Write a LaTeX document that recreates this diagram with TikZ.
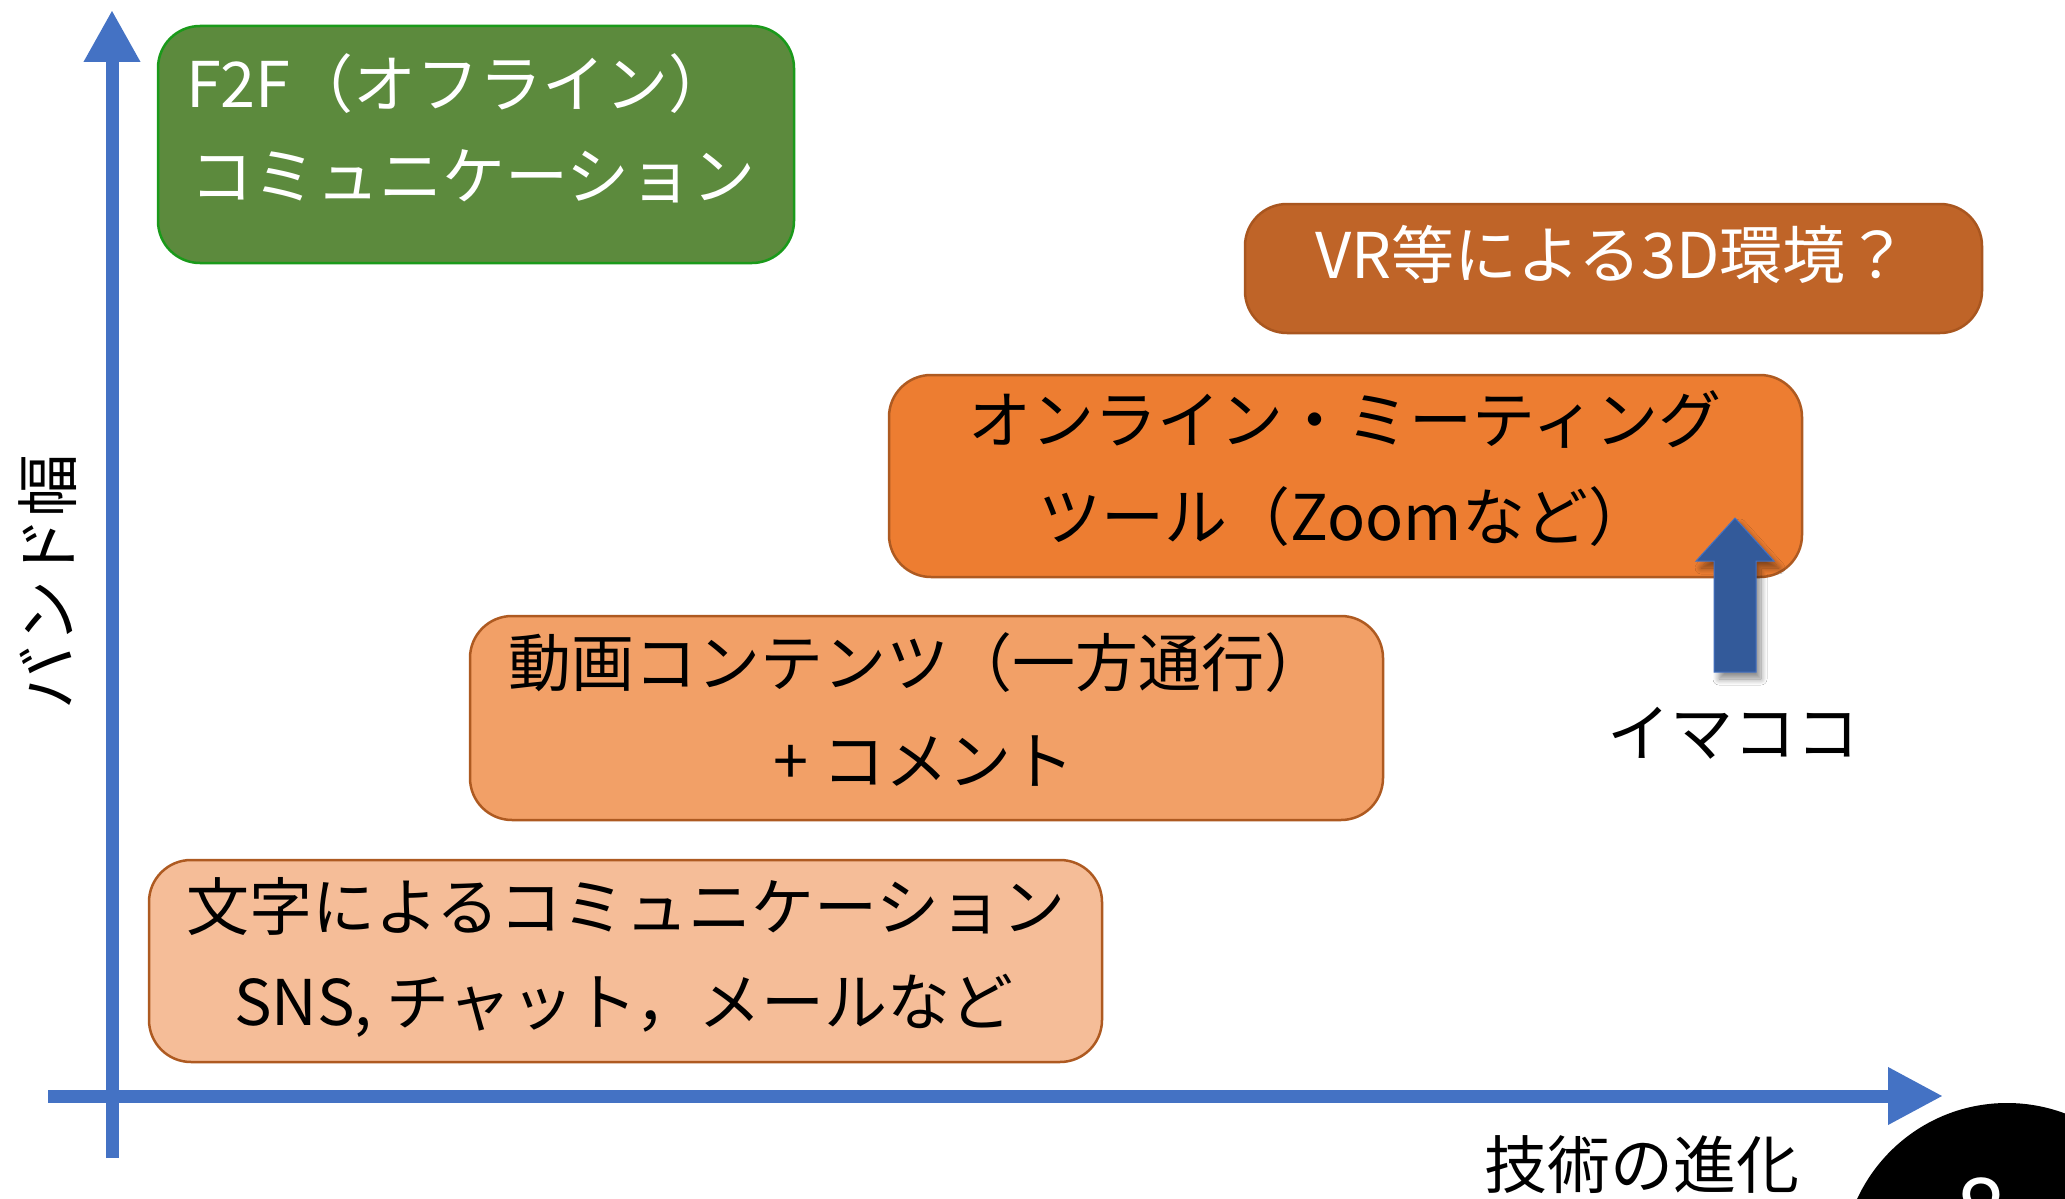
\documentclass[tikz,border=0pt]{standalone}
\usepackage{fontspec}
\setmainfont{Noto Sans CJK JP}
\usetikzlibrary{arrows.meta,shadows.blur}
\definecolor{axisblue}{HTML}{4472C4}
\definecolor{arrowblue}{HTML}{335A9A}
\definecolor{greenfill}{HTML}{5C8A3D}
\definecolor{greenline}{HTML}{1A9A1A}
\definecolor{vrfill}{HTML}{BF6428}
\definecolor{vrline}{HTML}{A9561F}
\definecolor{onlinefill}{HTML}{ED7D31}
\definecolor{orangeline}{HTML}{AE5A21}
\definecolor{videofill}{HTML}{F2A067}
\definecolor{textfill}{HTML}{F5BD98}
\begin{document}
\begin{tikzpicture}[x=1pt,y=-1pt,
  box/.style={draw, rounded corners=42pt, line width=2.5pt, inner sep=0pt},
  lbl/.style={anchor=base, inner sep=0pt, font=\fontsize{63}{76}\selectfont},
  axis/.style={draw=axisblue, line width=13pt}]
\path[use as bounding box, clip] (0,0) rectangle (2065,1199);
\fill[white] (0,0) rectangle (2065,1199);

% axes
\coordinate (ybot) at (112,1158);
\coordinate (ytop) at (112,10);
\coordinate (xleft) at (48,1096);
\coordinate (xright) at (1943,1096);
\draw[axis, -{Triangle[length=52pt,width=53pt]}] (ybot) -- (ytop);
\draw[axis, -{Triangle[length=55pt,width=54pt]}] (xleft) -- (xright);

% boxes
\node[box, draw=greenline, fill=greenfill, minimum width=636pt, minimum height=237pt] (f2f) at (476,144.5) {};
\node[box, draw=vrline, fill=vrfill, minimum width=737pt, minimum height=129pt] (vr) at (1613.5,268.5) {};
\node[box, draw=orangeline, fill=onlinefill, minimum width=913pt, minimum height=202pt] (online) at (1345.5,476) {};
\node[box, draw=orangeline, fill=videofill, minimum width=913pt, minimum height=204pt] (video) at (926.5,718) {};
\node[box, draw=orangeline, fill=textfill, minimum width=953pt, minimum height=202pt] (text) at (625.5,961) {};

% labels
\node[lbl, anchor=base west, text=white] (f2fa) at (186,107) {F2F（オフライン）};
\node[lbl, anchor=base west, text=white] (f2fb) at (190,199) {コミュニケーション};
\node[lbl, text=white] (vra) at (1612,278) {VR等による3D環境？};
\node[lbl] (onlinea) at (1345,443) {オンライン・ミーティング};
\node[lbl] (onlineb) at (1345,540) {ツール（Zoomなど）};
\node[lbl] (videoa) at (918,686) {動画コンテンツ（一方通行）};
\node[lbl] (videob) at (924,784) {+ コメント};
\node[lbl] (texta) at (626,930) {文字によるコミュニケーション};
\node[lbl] (textb) at (624,1025) {SNS, チャット，メールなど};

% "now" arrow
\path[fill=arrowblue, draw=axisblue, line width=1pt,
  blur shadow={shadow xshift=5pt, shadow yshift=-7pt, shadow blur radius=6pt, shadow blur steps=10, shadow opacity=45}]
  (1714,672) -- (1714,561) -- (1696,561) -- (1735,518) -- (1774,561)
  -- (1756,561) -- (1756,672) -- cycle;
\node[lbl] (now) at (1733,756) {イマココ};

% axis labels
\node[lbl] (xlabel) at (1642,1188) {技術の進化};
\node[lbl, rotate=90] (ylabel) at (71,582) {バンド幅};

% page-number disc
\fill[black] (2007,1268) circle (165pt);
\node[lbl, text=white, font=\fontsize{92}{100}\selectfont] (pagenum) at (1981,1244) {8};
\end{tikzpicture}
\end{document}
